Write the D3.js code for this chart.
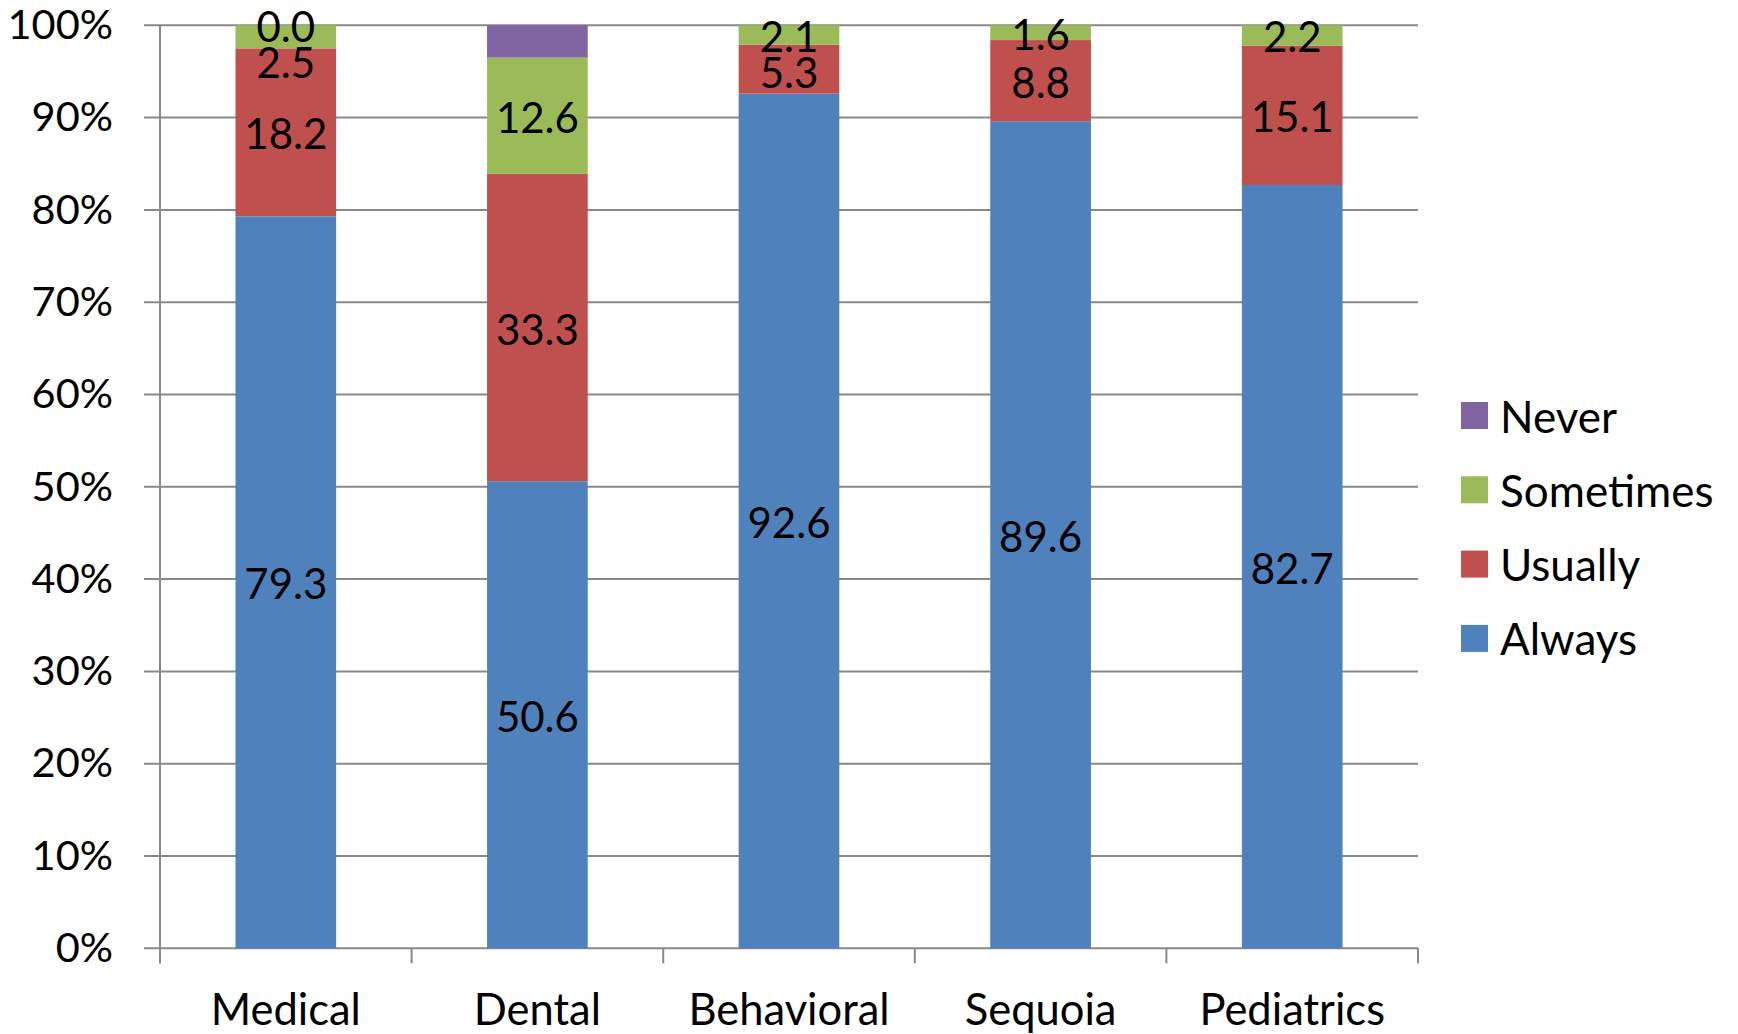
<!DOCTYPE html>
<html>
<head>
<meta charset="utf-8">
<script src="https://cdn.jsdelivr.net/npm/d3@7"></script>
<style>
  html, body { margin: 0; padding: 0; background: #fff; }
  svg { display: block; }
  text { font-family: Lato, "Open Sans", sans-serif; fill: #000; }
</style>
</head>
<body>
<svg id="chart" width="1738" height="1034"></svg>
<script>
// Survey responses by department (percent of respondents)
const categories = ["Medical", "Dental", "Behavioral", "Sequoia", "Pediatrics"];
const seriesNames = ["Always", "Usually", "Sometimes", "Never"];
const always    = [79.3, 50.6, 92.6, 89.6, 82.7];
const usually   = [18.2, 33.3, 5.3, 8.8, 15.1];
const sometimes = [2.5, 12.6, 2.1, 1.6, 2.2];
const never     = [0.0, 3.5, null, null, null];
// segments drawn without a value label
const unlabeled = [["Never", "Dental"]];
const yTicks = [0, 10, 20, 30, 40, 50, 60, 70, 80, 90, 100];
const legendOrder = ["Never", "Sometimes", "Usually", "Always"];

const colors = {
  Always: "#4F81BD",
  Usually: "#C0504D",
  Sometimes: "#9BBB59",
  Never: "#8064A2"
};

const seriesValues = { Always: always, Usually: usually, Sometimes: sometimes, Never: never };

const rows = categories.map((c, i) => {
  const r = { category: c };
  seriesNames.forEach(s => { r[s] = seriesValues[s][i] == null ? 0 : seriesValues[s][i]; });
  return r;
});

const svg = d3.select("#chart");
const plot = { left: 160, right: 1418, top: 25.3, bottom: 948.3 };

const x = d3.scaleBand()
  .domain(categories)
  .range([plot.left, plot.right])
  .paddingInner(0.6)
  .paddingOuter(0.3);

const y = d3.scaleLinear().domain([0, 100]).range([plot.bottom, plot.top]);

const gridColor = "#898989";

// horizontal gridlines with short ticks left of the axis
svg.append("g")
  .selectAll("line")
  .data(yTicks)
  .join("line")
  .attr("x1", plot.left - 16)
  .attr("x2", plot.right)
  .attr("y1", d => y(d))
  .attr("y2", d => y(d))
  .attr("stroke", gridColor)
  .attr("stroke-width", 2);

// stacked bars
const stack = d3.stack().keys(seriesNames);
const stacked = stack(rows);

const barGroups = svg.append("g")
  .selectAll("g")
  .data(stacked)
  .join("g")
  .attr("fill", d => colors[d.key]);

barGroups.selectAll("rect")
  .data(d => d.map(p => ({ key: d.key, p })))
  .join("rect")
  .attr("x", d => x(d.p.data.category))
  .attr("width", x.bandwidth())
  .attr("y", d => y(d.p[1]))
  .attr("height", d => Math.max(0, y(d.p[0]) - y(d.p[1])));

// y axis line and category boundary ticks
svg.append("line")
  .attr("x1", plot.left).attr("x2", plot.left)
  .attr("y1", plot.top).attr("y2", plot.bottom + 15)
  .attr("stroke", gridColor).attr("stroke-width", 2);

const boundaries = d3.range(categories.length + 1).map(i => plot.left + i * x.step());
svg.append("g")
  .selectAll("line")
  .data(boundaries)
  .join("line")
  .attr("x1", d => d).attr("x2", d => d)
  .attr("y1", plot.bottom).attr("y2", plot.bottom + 15)
  .attr("stroke", gridColor).attr("stroke-width", 2);

// y tick labels
const yAxis = d3.axisLeft(y)
  .tickValues(yTicks)
  .tickFormat(d => d + "%")
  .tickSize(0)
  .tickPadding(47);
const yG = svg.append("g").attr("transform", `translate(${plot.left},0)`).call(yAxis);
yG.select(".domain").remove();
yG.selectAll("text")
  .style("font-family", "Lato, 'Open Sans', sans-serif")
  .style("font-size", "41.5px")
  .attr("fill", "#000");

// category labels
const xAxis = d3.axisBottom(x).tickSize(0).tickPadding(0);
const xG = svg.append("g").attr("transform", `translate(0,${plot.bottom})`).call(xAxis);
xG.select(".domain").remove();
xG.selectAll("text")
  .style("font-family", "Lato, 'Open Sans', sans-serif")
  .style("font-size", "43.5px")
  .attr("fill", "#000")
  .attr("dy", 0)
  .attr("y", 1025 - plot.bottom);

// value labels, nudged apart when stacked segments are too thin
const isHidden = (s, c) => unlabeled.some(([ss, cc]) => ss === s && cc === c);
const labelData = [];
categories.forEach((c, i) => {
  const items = [];
  stacked.forEach(layer => {
    const v = seriesValues[layer.key][i];
    if (v == null || isHidden(layer.key, c)) return;
    const p = layer[i];
    items.push({ category: c, value: v, cy: y((p[0] + p[1]) / 2) });
  });
  // resolve overlaps from the top of the bar downwards
  items.sort((a, b) => a.cy - b.cy);
  const minGap = 36;
  for (let k = 1; k < items.length; k++) {
    if (items[k].cy - items[k - 1].cy < minGap) items[k].cy = items[k - 1].cy + minGap;
  }
  labelData.push(...items);
});

svg.append("g")
  .selectAll("text")
  .data(labelData)
  .join("text")
  .attr("x", d => x(d.category) + x.bandwidth() / 2)
  .attr("y", d => d.cy + 1)
  .attr("text-anchor", "middle")
  .attr("dominant-baseline", "central")
  .style("font-size", "42px")
  .text(d => d.value.toFixed(1));

// legend
const legend = svg.append("g").attr("transform", "translate(1461,415.5)");
const li = legend.selectAll("g")
  .data(legendOrder)
  .join("g")
  .attr("transform", (d, i) => `translate(0,${i * 74.3})`);
li.append("rect")
  .attr("x", 0).attr("y", -13.5)
  .attr("width", 27).attr("height", 27)
  .attr("fill", d => colors[d]);
li.append("text")
  .attr("x", 39)
  .attr("y", 0)
  .attr("dominant-baseline", "central")
  .style("font-size", "44px")
  .text(d => d);
</script>
</body>
</html>
